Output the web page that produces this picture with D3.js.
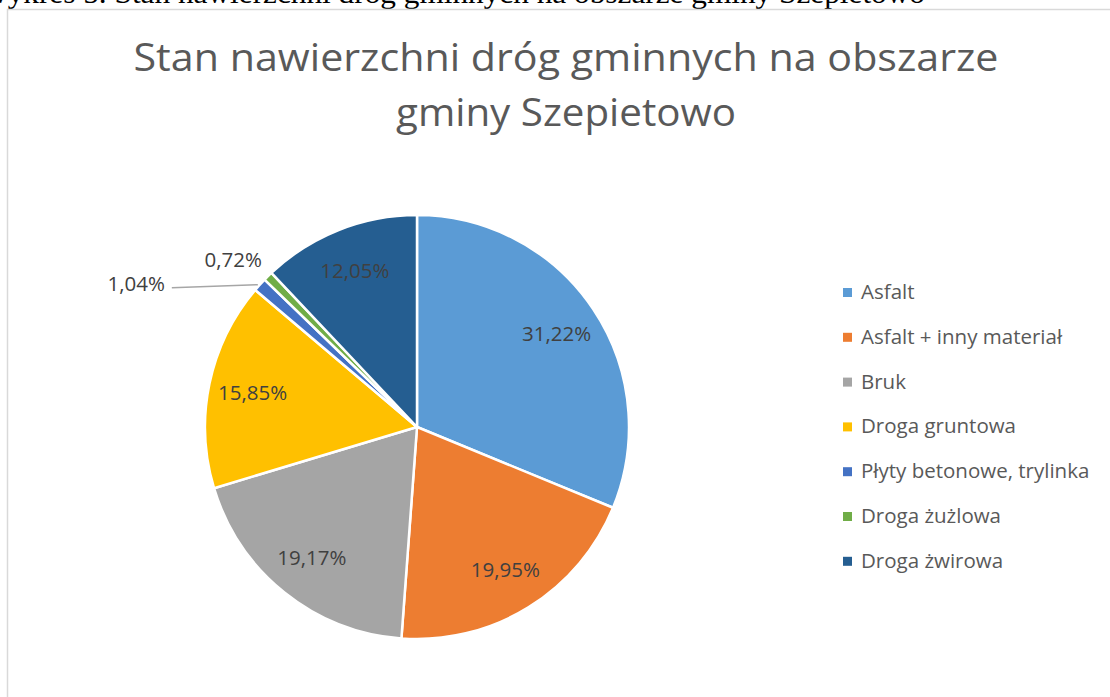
<!DOCTYPE html>
<html>
<head>
<meta charset="utf-8" />
<title>Stan nawierzchni dróg gminnych</title>
<script src="https://d3js.org/d3.v7.min.js"></script>
<style>
  body { margin: 0; background: #fff; overflow: hidden; }
</style>
</head>
<body>
<div id="chart"></div>
<script>
// dane
var categories = ["Asfalt", "Asfalt + inny materiał", "Bruk", "Droga gruntowa",
                  "Płyty betonowe, trylinka", "Droga żużlowa", "Droga żwirowa"];
var values = [31.22, 19.95, 19.17, 15.85, 1.04, 0.72, 12.05];
var colors = ["#5B9BD5", "#ED7D31", "#A5A5A5", "#FFC000", "#4472C4", "#70AD47", "#255E91"];
var titleLines = ["Stan nawierzchni dróg gminnych na obszarze", "gminy Szepietowo"];
var caption = "Wykres 5. Stan nawierzchni dróg gminnych na obszarze gminy Szepietowo";

var width = 1110, height = 697;
var cx = 417, cy = 427, radius = 212;
var font = "'Open Sans', 'Noto Sans', sans-serif";

var svg = d3.select("#chart").append("svg")
  .attr("width", width).attr("height", height);

// podpis nad wykresem (ucięty górną krawędzią, jak w oryginale)
svg.append("text")
  .attr("x", 925).attr("y", 3)
  .attr("text-anchor", "end")
  .attr("textLength", 945)
  .attr("lengthAdjust", "spacingAndGlyphs")
  .style("font-family", "'Liberation Serif', 'Times New Roman', serif")
  .style("font-size", "30px")
  .style("fill", "#000")
  .text(caption);

// ramka obszaru wykresu
svg.append("rect")
  .attr("x", 7.5).attr("y", 9.5)
  .attr("width", 1120).attr("height", 700)
  .attr("fill", "none")
  .attr("stroke", "#d9d9d9")
  .attr("stroke-width", 1.5);

// tytuł
svg.append("g").selectAll("text").data(titleLines).enter().append("text")
  .attr("x", 566)
  .attr("y", function(d, i) { return 71 + i * 55; })
  .attr("text-anchor", "middle")
  .attr("textLength", function(d, i) { return i === 0 ? 865 : 340; })
  .attr("lengthAdjust", "spacingAndGlyphs")
  .style("font-family", font)
  .style("font-size", "38px")
  .style("fill", "#595959")
  .text(function(d) { return d; });

var pie = d3.pie().sort(null).value(function(d) { return d; });
var arcs = pie(values);
var arc = d3.arc().innerRadius(0).outerRadius(radius);
var labelArc = d3.arc().innerRadius(168).outerRadius(168);

var g = svg.append("g").attr("transform", "translate(" + cx + "," + cy + ")");

g.selectAll("path").data(arcs).enter().append("path")
  .attr("d", arc)
  .attr("fill", function(d, i) { return colors[i]; })
  .attr("stroke", "#fff")
  .attr("stroke-width", 2.5)
  .attr("stroke-linejoin", "round");

function fmt(v) { return v.toFixed(2).replace(".", ",") + "%"; }

function outerPoint(d, r) {
  var a = (d.startAngle + d.endAngle) / 2;
  return [Math.sin(a) * r, -Math.cos(a) * r];
}

// etykiety wewnątrz
g.selectAll("text.lbl").data(arcs.filter(function(d) { return d.data >= 2; }))
  .enter().append("text")
  .attr("class", "lbl")
  .attr("x", function(d) { return labelArc.centroid(d)[0]; })
  .attr("y", function(d) { return labelArc.centroid(d)[1] + 7; })
  .attr("text-anchor", "middle")
  .style("font-family", font)
  .style("font-size", "20.5px")
  .style("fill", "#404040")
  .text(function(d) { return fmt(d.data); });

// etykiety małych wycinków
var small = arcs.filter(function(d) { return d.data < 2; });
small.forEach(function(d, k) {
  var p = outerPoint(d, radius);
  if (k === 0) {
    g.append("polyline")
      .attr("points", [[p[0] - 2, p[1]], [p[0] - 88, p[1] + 3]].map(function(q) { return q.join(","); }).join(" "))
      .attr("fill", "none")
      .attr("stroke", "#a6a6a6")
      .attr("stroke-width", 1.5);
    g.append("text")
      .attr("x", p[0] - 95).attr("y", p[1] + 6)
      .attr("text-anchor", "end")
      .style("font-family", font)
      .style("font-size", "20.5px")
      .style("fill", "#404040")
      .text(fmt(d.data));
  } else {
    g.append("text")
      .attr("x", p[0] - 6).attr("y", p[1] - 9)
      .attr("text-anchor", "end")
      .style("font-family", font)
      .style("font-size", "20.5px")
      .style("fill", "#404040")
      .text(fmt(d.data));
  }
});

// legenda
var legend = svg.append("g").selectAll("g").data(categories).enter().append("g")
  .attr("transform", function(d, i) { return "translate(843," + (299 + i * 44.8) + ")"; });
legend.append("rect")
  .attr("x", 0).attr("y", -11)
  .attr("width", 9).attr("height", 9)
  .attr("fill", function(d, i) { return colors[i]; });
legend.append("text")
  .attr("x", 18).attr("y", 0)
  .style("font-family", font)
  .style("font-size", "20.5px")
  .style("fill", "#595959")
  .text(function(d) { return d; });
</script>
</body>
</html>
